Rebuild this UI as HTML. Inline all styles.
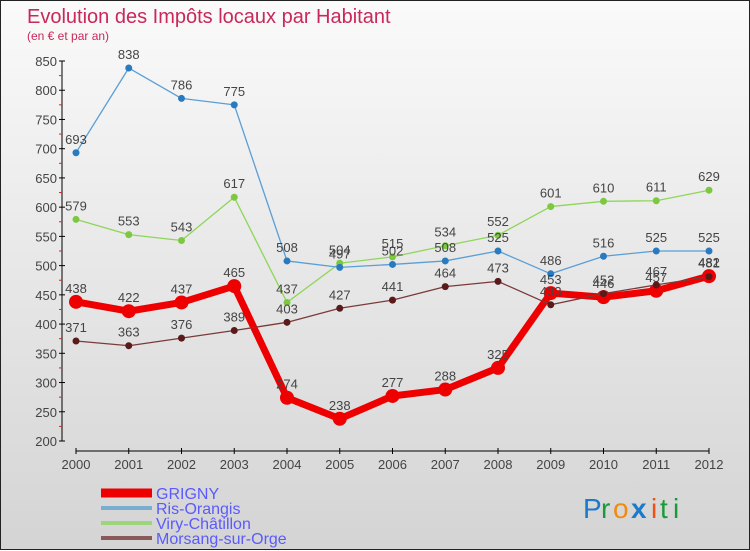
<!DOCTYPE html>
<html><head><meta charset="utf-8"><style>
html,body{margin:0;padding:0}
body{width:750px;height:550px;overflow:hidden;font-family:"Liberation Sans",sans-serif}
#wrap{position:relative;width:748px;height:548px;border:1px solid #222;background:linear-gradient(#fafafa,#d4d4d4)}
svg{position:absolute;left:0;top:0}
</style></head><body>
<div id="wrap">
<svg id="chart" width="750" height="550">
<text x="26" y="22" font-size="20" fill="#c8285a">Evolution des Impôts locaux par Habitant</text>
<text x="26" y="39" font-size="12" fill="#c8285a">(en € et par an)</text>
<g id="logo" font-size="28">
<text x="582" y="517" fill="#1a7acc">P</text><text x="600" y="517" fill="#1a9a3a">r</text><text x="612" y="517" fill="#f08a10">o</text><text x="630" y="517" fill="#1a7acc" font-weight="bold">x</text><text x="650" y="517" fill="#f05010">i</text><text x="659" y="517" fill="#1a9a3a">t</text><text x="672" y="517" fill="#1a9a3a">i</text>
</g>
</svg></div>
<script>
const years=[2000,2001,2002,2003,2004,2005,2006,2007,2008,2009,2010,2011,2012];
const grigny=[438,422,437,465,274,238,277,288,325,453,446,457,482];
const ris=[693,838,786,775,508,497,502,508,525,486,516,525,525];
const viry=[579,553,543,617,437,504,515,534,552,601,610,611,629];
const morsang=[371,363,376,389,403,427,441,464,473,433,452,467,481];
const yTicks=[200,250,300,350,400,450,500,550,600,650,700,750,800,850];
const seriesNames=["GRIGNY","Ris-Orangis","Viry-Châtillon","Morsang-sur-Orge"];
const NS="http://www.w3.org/2000/svg";
const svg=document.getElementById('chart');
const X=i=>75+i*(633/(years.length-1));
const Y=v=>440-(v-200)*(380/650);
function mk(t,a,p){const e=document.createElementNS(NS,t);for(const k in a)e.setAttribute(k,a[k]);(p||svg).appendChild(e);return e;}
const ya=mk('line',{x1:61,y1:60,x2:61,y2:440,stroke:'#000'});


const xa=mk('line',{x1:75,y1:450,x2:708,y2:450,stroke:'#000'});


yTicks.forEach((v,i)=>{
  mk('line',{x1:58,y1:Y(v),x2:64,y2:Y(v),stroke:'#000'});
  if(i<yTicks.length-1)mk('line',{x1:58,y1:Y(v+25),x2:61,y2:Y(v+25),stroke:'#e02020'});
  const t=mk('text',{x:56,y:Y(v)+5,'font-size':13,fill:'#444','text-anchor':'end'});t.textContent=v;
  
  
});
years.forEach((y,i)=>{
  mk('line',{x1:X(i),y1:447,x2:X(i),y2:453,stroke:'#000'});
  const t=mk('text',{x:X(i),y:468,'font-size':13,fill:'#444','text-anchor':'middle'});t.textContent=y;
  
  
});
function series(d,color,w,r,dot,name){
  const g=mk('g',{});
  
  
  mk('polyline',{points:d.map((v,i)=>X(i)+','+Y(v)).join(' '),fill:'none',stroke:color,'stroke-width':w,'stroke-linejoin':'round'},g);
  d.forEach((v,i)=>{
    const c=mk('circle',{cx:X(i),cy:Y(v),r:r,fill:dot},g);
    
    
    const t=mk('text',{x:X(i),y:Y(v)-9,'font-size':13,fill:'#444','text-anchor':'middle'},g);t.textContent=v;
  });
}
series(viry,'#8ed65a',1.3,3.5,'#7cc840','series-viry');
series(ris,'#5a9ed6',1.3,3.5,'#2a7ac0','series-ris');
series(grigny,'#ee0000',7,7,'#ee0000','series-grigny');
series(morsang,'#7a3a3a',1.3,3.5,'#5a1a1a','series-morsang');
const legC=['#ee0000','#7aaed0','#9ed47a','#8a5a5a'];
const legW=[9,4,4,4];
seriesNames.forEach((n,i)=>{
  const yy=492+i*15;
  const g=mk('g',{});
  
  
  mk('line',{x1:100,y1:yy,x2:151,y2:yy,stroke:legC[i],'stroke-width':legW[i]},g);
  const t=mk('text',{x:155,y:yy+6,'font-size':16,fill:'#5a5aff'},g);t.textContent=n;
});
</script>
</body></html>
